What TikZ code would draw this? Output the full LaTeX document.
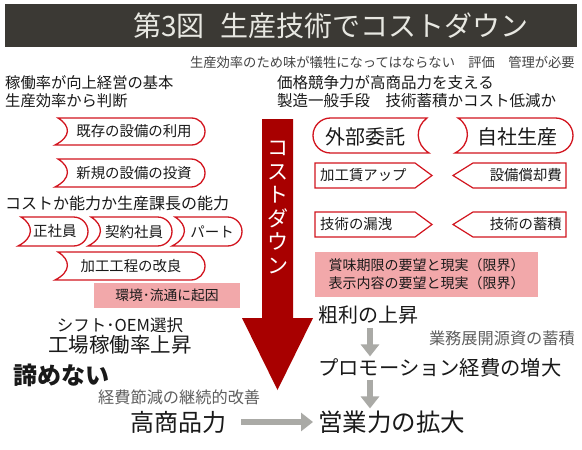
\documentclass[tikz,border=0pt]{standalone}
\usepackage{fontspec}
\setmainfont{Noto Sans CJK JP}
\usetikzlibrary{arrows.meta}
\definecolor{tred}{RGB}{210,20,30}
\definecolor{dred}{RGB}{168,0,0}
\definecolor{pinkbg}{RGB}{242,168,170}
\definecolor{titlebg}{RGB}{59,57,52}
\definecolor{titletxt}{RGB}{232,232,226}
\definecolor{garr}{RGB}{170,170,166}
\definecolor{txt}{RGB}{25,25,25}
\definecolor{gtxt}{RGB}{95,95,95}
\newcommand\fs[1]{\fontsize{#1}{#1}\selectfont}
\tikzset{
  lbl/.style={inner sep=0pt, text=txt},
  tabline/.style={draw=tred, line width=1.3pt, fill=white},
  pent/.style={draw=tred, line width=1.2pt, fill=white},
  garrow/.style={draw=garr, line width=6.5pt, -{Triangle[width=18pt,length=12pt]}},
  pinkbox/.style={fill=pinkbg, inner sep=0pt, text=txt},
}
% concave left, convex right
\newcommand\tabRight[4]{%
  \pgfmathsetmacro\tabym{(#3+#4)/2}%
  \pgfmathsetmacro\tabr{(#4-#3)/2}%
  \pgfmathsetmacro\tabk{0.552*\tabr}%
  \draw[tabline] ({#1+1},#3) -- ({#2-\tabr},#3)
    .. controls ({#2-\tabr+\tabk},#3) and (#2,{\tabym-\tabk}) .. (#2,\tabym)
    .. controls (#2,{\tabym+\tabk}) and ({#2-\tabr+\tabk},#4) .. ({#2-\tabr},#4)
    -- ({#1-2},#4) .. controls ({#1+14},{#4-8}) and ({#1+14},{#3+8}) .. ({#1+1},#3) -- cycle;}
% convex left, concave right
\newcommand\tabLeft[4]{%
  \pgfmathsetmacro\tabym{(#3+#4)/2}%
  \pgfmathsetmacro\tabr{(#4-#3)/2}%
  \pgfmathsetmacro\tabk{0.552*\tabr}%
  \draw[tabline] ({#2-1},#3) -- ({#1+\tabr},#3)
    .. controls ({#1+\tabr-\tabk},#3) and (#1,{\tabym-\tabk}) .. (#1,\tabym)
    .. controls (#1,{\tabym+\tabk}) and ({#1+\tabr-\tabk},#4) .. ({#1+\tabr},#4)
    -- ({#2+1},#4) .. controls ({#2-13},{#4-9}) and ({#2-13},{#3+9}) .. ({#2-1},#3) -- cycle;}
\begin{document}
\begin{tikzpicture}[x=1pt,y=-1pt]
\useasboundingbox (0,0) rectangle (582,450);
\fill[white] (0,0) rectangle (582,450);
% title
\fill[titlebg] (5,4) rectangle (577,47);
\node[inner sep=0, anchor=west, text=titletxt, font=\fs{28}] (title) at (133,26) {第3図\hspace{16pt}生産技術でコストダウン};
\node[lbl, anchor=east, text=gtxt!70!black, font=\fs{13.3}] (sub) at (575,62) {生産効率のため味が犠牲になってはならない　評価　管理が必要};
% headings
\node[lbl, anchor=west, font=\fs{15.3}] (h1) at (5,83) {稼働率が向上経営の基本};
\node[lbl, anchor=west, font=\fs{15.3}] (h2) at (5,101) {生産効率から判断};
\node[lbl, anchor=west, font=\fs{15.5}] (h3) at (277,83) {価格競争力が高商品力を支える};
\node[lbl, anchor=west, font=\fs{15.5}] (h4) at (277,101) {製造一般手段　技術蓄積かコスト低減か};
% left tabs
\tabRight{57}{205}{118}{145}
\node[lbl, font=\fs{14.4}] (kison) at (134,131.5) {既存の設備の利用};
\tabRight{57}{205}{159}{187}
\node[lbl, font=\fs{14.4}] (shinki) at (134,173) {新規の設備の投資};
\node[lbl, anchor=west, font=\fs{16}] (h5) at (5,203) {コストか能力か生産課長の能力};
\tabRight{20}{88}{217}{246}
\node[lbl, font=\fs{14.5}] (sei) at (55,231.5) {正社員};
\tabRight{90}{172}{217}{246}
\node[lbl, font=\fs{14.5}] (kei) at (134,231.5) {契約社員};
\tabRight{174}{242}{217}{246}
\node[lbl, font=\fs{14.5}] (part) at (212,231.5) {パート};
\tabRight{57}{205}{252}{280}
\node[lbl, font=\fs{14.4}] (kakou) at (131,266) {加工工程の改良};
\node[pinkbox, minimum width=146pt, minimum height=25pt, font=\fs{13.8}] (kankyo) at (167,295.5) {環境･流通に起因};
% big red arrow
\fill[dred] (262,119) -- (293,119) -- (293,318) -- (313,318) -- (277.5,390) -- (242,318) -- (262,318) -- cycle;
\node[inner sep=0, text=white, align=center, font=\fontsize{21}{23.5}\selectfont] (cd) at (277.5,207.5) {コ\\ス\\ト\\ダ\\ウ\\ン};
% right tabs
\tabLeft{313}{428}{118}{153}
\node[lbl, font=\fs{20}] (gaibu) at (365,136.5) {外部委託};
\tabRight{457}{573}{118}{153}
\node[lbl, font=\fs{20}] (jisha) at (517,136.5) {自社生産};
% pentagons
\draw[pent] (315,163) -- (415,163) -- (432,175.5) -- (415,188) -- (315,188) -- cycle;
\node[lbl, anchor=west, font=\fs{14.4}] (kakouchin) at (320,175.5) {加工賃アップ};
\draw[pent] (453,175.5) -- (473,163) -- (566,163) -- (566,188) -- (473,188) -- cycle;
\node[lbl, anchor=east, font=\fs{14.4}] (setsubi) at (562,175.5) {設備償却費};
\draw[pent] (315,212) -- (415,212) -- (432,224.5) -- (415,237) -- (315,237) -- cycle;
\node[lbl, anchor=west, font=\fs{14.4}] (rouei) at (320,224.5) {技術の漏洩};
\draw[pent] (453,224.5) -- (473,212) -- (566,212) -- (566,237) -- (473,237) -- cycle;
\node[lbl, anchor=east, font=\fs{14.4}] (chikuseki) at (562,224.5) {技術の蓄積};
\node[pinkbox, minimum width=223pt, minimum height=45pt, align=center, font=\fontsize{14}{18}\selectfont] (shoumi) at (426.5,274.5) {賞味期限の要望と現実（限界）\\表示内容の要望と現実（限界）};
% right bottom
\node[lbl, anchor=west, font=\fs{20}] (arari) at (318,315) {粗利の上昇};
\node[lbl, anchor=east, text=gtxt, font=\fs{16.2}] (gyomu) at (575,338) {業務展開源資の蓄積};
\node[lbl, anchor=west, font=\fs{20.3}] (promo) at (318,368) {プロモーション経費の増大};
\node[lbl, anchor=west, font=\fs{24.5}] (eigyo) at (318,422) {営業力の拡大};
\coordinate (ax) at (370,0);
\draw[garrow, shorten <=4pt, shorten >=2pt] (arari.south -| ax) -- (promo.north -| ax);
\draw[garrow, shorten <=2pt, shorten >=2pt] (promo.south -| ax) -- (eigyo.north -| ax);
% left bottom
\node[lbl, font=\fs{16.5}] (shift) at (120,325) {シフト･OEM選択};
\node[lbl, font=\fs{20.5}] (kojo) at (120,345) {工場稼働率上昇};
\node[lbl, anchor=west, font=\bfseries\fs{24}] (akira) at (13,375) {諦めない};
\node[lbl, anchor=west, text=gtxt, font=\fs{16.2}] (keihi) at (98,397) {経費節減の継続的改善};
\node[lbl, anchor=west, font=\fs{24}] (koushou) at (130,422) {高商品力};
\draw[garrow, shorten <=15pt, shorten >=5pt] (koushou.east) -- (eigyo.west);
\end{tikzpicture}
\end{document}
